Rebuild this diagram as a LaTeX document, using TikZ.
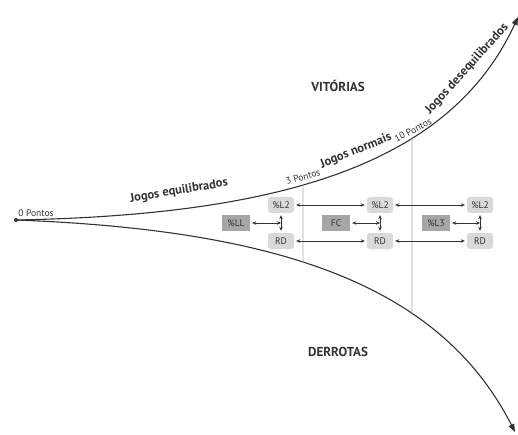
\documentclass[tikz,border=0pt]{standalone}
\usepackage{fontspec}
\setmainfont{PT Sans}
\usetikzlibrary{arrows.meta,intersections}
\definecolor{ink}{HTML}{333333}
\definecolor{boxlight}{HTML}{D9D9D9}
\definecolor{boxdark}{HTML}{A6A6A6}
\definecolor{guide}{HTML}{AAAAAA}
\tikzset{
  curve/.style={draw=ink, line width=1.1pt, -{Triangle[length=8pt,width=6pt]}},
  lightbox/.style={fill=boxlight, rounded corners=3pt, minimum width=26pt, minimum height=16pt, inner sep=0pt, font=\fontsize{9.5}{10}\selectfont, text=ink},
  darkbox/.style={fill=boxdark, minimum width=28pt, minimum height=16pt, inner sep=0pt, font=\fontsize{9.5}{10}\selectfont, text=ink},
  link/.style={draw=ink, line width=0.6pt, {Stealth[length=4pt,width=3.5pt]}-{Stealth[length=4pt,width=3.5pt]}, shorten <=2pt, shorten >=2pt},
  guideline/.style={draw=guide, line width=0.8pt},
  bigtext/.style={font=\bfseries\fontsize{13}{14}\selectfont, text=ink},
  phase/.style={font=\bfseries\fontsize{12.5}{13}\selectfont, text=ink},
  pts/.style={font=\fontsize{9.5}{10}\selectfont, text=ink},
}
\begin{document}
\begin{tikzpicture}[x=1pt,y=-1pt]
\useasboundingbox[fill=white] (0,0) rectangle (518,435);
\coordinate (o) at (16,220);
\coordinate (up) at (518,17);
\coordinate (dn) at (515,432);
\path[curve, name path=upper] (o) .. controls (280,215) and (450,165) .. (up);
\path[curve, name path=lower] (o) .. controls (280,230) and (440,285) .. (dn);
\fill[ink] (o) circle (2pt);

\path[name path=v1] (303,0) -- (303,435);
\path[name path=v2] (412,0) -- (412,435);
\path[name intersections={of=upper and v1, by=t1}];
\path[name intersections={of=lower and v1, by=b1}];
\path[name intersections={of=upper and v2, by=t2}];
\path[name intersections={of=lower and v2, by=b2}];
\draw[guideline] (t1) -- (b1);
\draw[guideline] (t2) -- (b2);

\node[bigtext] (vit) at (338,86) {VITÓRIAS};
\node[bigtext] (der) at (338,352) {DERROTAS};
\node[pts] (p0) at (36,213) {0 Pontos};
\node[phase, rotate=9.5] (j1) at (179,191) {Jogos equilibrados};
\node[pts, rotate=15] (p3) at (303,177) {3 Pontos};
\node[phase, rotate=22] (j2) at (356,151) {Jogos normais};
\node[pts, rotate=28] (p10) at (413,130) {10 Pontos};
\node[phase, rotate=48] (j3) at (467,69) {Jogos desequilibrados};

\node[lightbox] (a2) at (281,205) {\%L2};
\node[lightbox] (ar) at (281,241) {RD};
\node[darkbox] (al) at (236,223) {\%LL};
\node[lightbox] (b2) at (380,205) {\%L2};
\node[lightbox] (br) at (380,241) {RD};
\node[darkbox] (bl) at (336,223) {FC};
\node[lightbox] (c2) at (480,205) {\%L2};
\node[lightbox] (cr) at (480,241) {RD};
\node[darkbox] (cl) at (436,223) {\%L3};

\draw[link] (a2) -- (ar);
\draw[link] (b2) -- (br);
\draw[link] (c2) -- (cr);
\coordinate (am) at (281,223);
\coordinate (bm) at (380,223);
\coordinate (cm) at (480,223);
\draw[link, shorten >=0pt] (al) -- (am);
\draw[link, shorten >=0pt] (bl) -- (bm);
\draw[link, shorten >=0pt] (cl) -- (cm);
\draw[link] (a2) -- (b2);
\draw[link] (b2) -- (c2);
\draw[link] (ar) -- (br);
\draw[link] (br) -- (cr);
\end{tikzpicture}
\end{document}
